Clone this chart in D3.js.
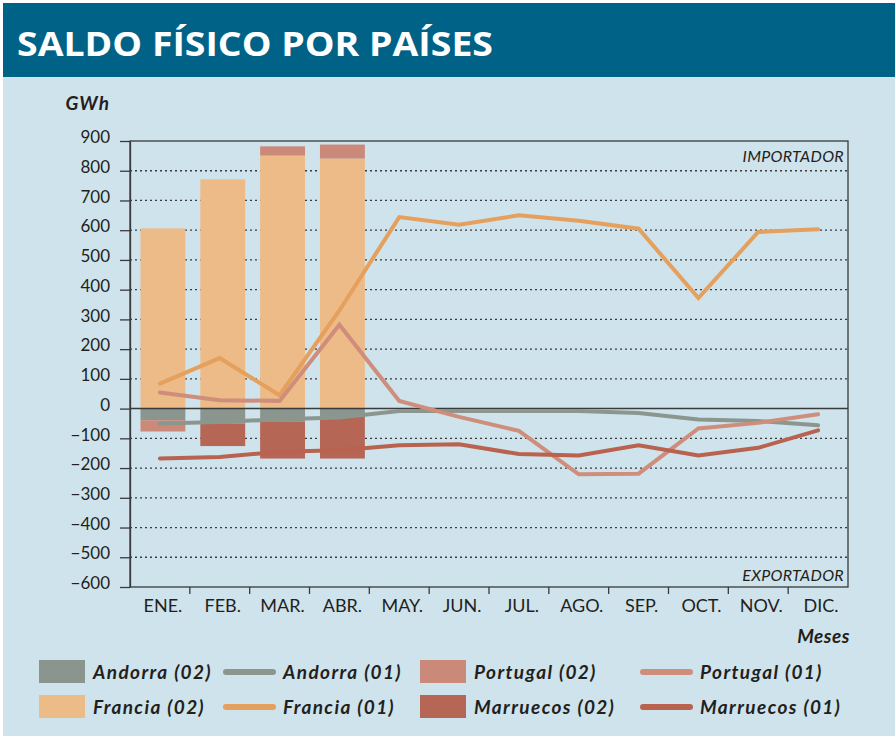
<!DOCTYPE html>
<html>
<head>
<meta charset="utf-8">
<script src="https://cdn.jsdelivr.net/npm/d3@7"></script>
<style>
  body { margin: 0; background: #fff; }
  svg text { font-family: Lato, "Open Sans", sans-serif; fill: #231f20; }
</style>
</head>
<body>
<div class="container"></div>
<script>
const months = ["ENE.", "FEB.", "MAR.", "ABR.", "MAY.", "JUN.", "JUL.", "AGO.", "SEP.", "OCT.", "NOV.", "DIC."]
const yTicks = [900, 800, 700, 600, 500, 400, 300, 200, 100, 0, -100, -200, -300, -400, -500, -600]

// (02) bars, first four months
const andorra02 = [-39, -50, -43, -28]
const francia02 = [606, 771, 851, 841]
const portugal02 = [-38, 0, 31, 47]
const marruecos02 = [0, -76, -125, -140]

// (01) lines, twelve months
const andorra01 = [-50, -45, -36, -30, -8, -8, -8, -8, -15, -37, -42, -56]
const francia01 = [84, 170, 45, 330, 644, 618, 650, 632, 605, 372, 594, 603]
const portugal01 = [54, 28, 26, 282, 26, -28, -75, -221, -219, -67, -48, -19]
const marruecos01 = [-168, -163, -145, -140, -123, -120, -153, -158, -123, -158, -132, -73]

const colors = {
    andorraBar: "#8a958e", andorraLine: "#8b968f",
    franciaBar: "#ecbb87", franciaLine: "#e4a05c",
    portugalBar: "#cb8a79", portugalLine: "#cf8d7c",
    marruecosBar: "#b56655", marruecosLine: "#b8624f"
}

const width = 896
const height = 736
const margin = { top: 141, bottom: 149, left: 130, right: 48 }

let svg = d3.select(".container")
    .append("svg")
    .attr("width", width)
    .attr("height", height)
    .attr("viewBox", [0, 0, width, height])

// background + header
svg.append("rect").attr("x", 3).attr("y", 3).attr("width", width - 4).attr("height", height - 3).attr("fill", "#cfe3ec")
svg.append("rect").attr("x", 3).attr("y", 3).attr("width", width - 4).attr("height", 74).attr("fill", "#006286")
svg.append("text")
    .attr("x", 17).attr("y", 56)
    .style("fill", "#fff")
    .style("font-family", "'Open Sans', sans-serif")
    .style("font-weight", 700)
    .style("font-size", "34px")
    .attr("textLength", 476)
    .attr("lengthAdjust", "spacingAndGlyphs")
    .text("SALDO FÍSICO POR PAÍSES")

let x = d3.scaleBand()
    .domain(months)
    .range([margin.left, width - margin.right])
    .paddingInner(0.25)
    .paddingOuter(0.125)

let xPoint = m => x(m) + x.bandwidth() / 2

let y = d3.scaleLinear()
    .domain([-600, 900])
    .range([height - margin.bottom, margin.top])

// dotted grid
svg.append("g")
    .selectAll("line")
    .data(yTicks.filter(d => d != 0 && d != 900 && d != -600))
    .join("line")
    .attr("x1", margin.left).attr("x2", width - margin.right)
    .attr("y1", d => y(d)).attr("y2", d => y(d))
    .attr("stroke", "#3a3a3a")
    .attr("stroke-width", 1.3)
    .attr("stroke-dasharray", "2,3")

// frame
svg.append("rect")
    .attr("x", margin.left).attr("y", y(900))
    .attr("width", width - margin.right - margin.left)
    .attr("height", y(-600) - y(900))
    .attr("fill", "none")
    .attr("stroke", "#3a3a3a")
    .attr("stroke-width", 1.3)

// stacked bars
let barRows = months.slice(0, 4).map((m, i) => ({
    month: m,
    andorra: andorra02[i], francia: francia02[i], portugal: portugal02[i], marruecos: marruecos02[i]
}))
let keys = ["andorra", "francia", "portugal", "marruecos"]
let stacked = d3.stack().keys(keys).offset(d3.stackOffsetDiverging)(barRows)

svg.append("g")
    .selectAll("g")
    .data(stacked)
    .join("g")
    .attr("fill", s => colors[s.key + "Bar"])
    .selectAll("rect")
    .data(s => s)
    .join("rect")
    .attr("x", d => x(d.data.month) + 3)
    .attr("width", x.bandwidth())
    .attr("y", d => y(Math.max(d[0], d[1])))
    .attr("height", d => Math.abs(y(d[0]) - y(d[1])))

// zero line
svg.append("line")
    .attr("x1", margin.left).attr("x2", width - margin.right)
    .attr("y1", y(0)).attr("y2", y(0))
    .attr("stroke", "#3a3a3a")
    .attr("stroke-width", 1.5)

// lines
let line = d3.line()
    .x((d, i) => xPoint(months[i]))
    .y(d => y(d))

let series = [
    { values: andorra01, color: colors.andorraLine },
    { values: francia01, color: colors.franciaLine },
    { values: portugal01, color: colors.portugalLine },
    { values: marruecos01, color: colors.marruecosLine }
]

svg.append("g")
    .selectAll("path")
    .data(series)
    .join("path")
    .attr("d", s => line(s.values))
    .attr("fill", "none")
    .attr("stroke", s => s.color)
    .attr("stroke-width", 4)
    .attr("stroke-linecap", "round")
    .attr("stroke-linejoin", "miter")

// y axis
let yAxis = svg.append("g")
    .attr("transform", `translate(${margin.left}, 0)`)
    .call(d3.axisLeft(y).tickValues(yTicks).tickSize(10).tickSizeOuter(0).tickPadding(10))
yAxis.select(".domain").attr("stroke", "#3a3a3a").attr("stroke-width", 1.3)
yAxis.selectAll(".tick line").attr("stroke", "#3a3a3a").attr("stroke-width", 1.3)
yAxis.selectAll(".tick text").style("font-size", "17px").attr("dy", "0.1em")

// x axis
let xAxis = svg.append("g")
    .attr("transform", `translate(0, ${y(-600)})`)
    .call(d3.axisBottom(x).tickSize(0).tickPadding(12))
xAxis.select(".domain").remove()
xAxis.selectAll(".tick text").style("font-size", "18px").attr("dx", "3px")

svg.append("g")
    .selectAll("line")
    .data(months.slice(1))
    .join("line")
    .attr("x1", m => x(m) - x.step() * x.paddingInner() / 2)
    .attr("x2", m => x(m) - x.step() * x.paddingInner() / 2)
    .attr("y1", y(-600)).attr("y2", y(-600) + 7)
    .attr("stroke", "#3a3a3a")
    .attr("stroke-width", 1.3)

// axis titles
svg.append("text")
    .attr("x", 110).attr("y", 110)
    .attr("text-anchor", "end")
    .style("font-size", "19px").style("font-weight", 700).style("font-style", "italic")
    .attr("letter-spacing", "1px")
    .text("GWh")

svg.append("text")
    .attr("x", width - margin.right + 2).attr("y", 643)
    .attr("text-anchor", "end")
    .style("font-size", "19px").style("font-weight", 700).style("font-style", "italic")
    .attr("letter-spacing", "0.5px")
    .text("Meses")

svg.append("text")
    .attr("x", width - margin.right - 4).attr("y", 162)
    .attr("text-anchor", "end")
    .style("font-size", "16px").style("font-style", "italic")
    .attr("letter-spacing", "0.3px")
    .text("IMPORTADOR")

svg.append("text")
    .attr("x", width - margin.right - 4).attr("y", 581)
    .attr("text-anchor", "end")
    .style("font-size", "16px").style("font-style", "italic")
    .attr("letter-spacing", "0.3px")
    .text("EXPORTADOR")

// legend
let legendItems = [
    { label: "Andorra (02)", color: colors.andorraBar, type: "bar", col: 0, row: 0 },
    { label: "Andorra (01)", color: colors.andorraLine, type: "line", col: 1, row: 0 },
    { label: "Portugal (02)", color: colors.portugalBar, type: "bar", col: 2, row: 0 },
    { label: "Portugal (01)", color: colors.portugalLine, type: "line", col: 3, row: 0 },
    { label: "Francia (02)", color: colors.franciaBar, type: "bar", col: 0, row: 1 },
    { label: "Francia (01)", color: colors.franciaLine, type: "line", col: 1, row: 1 },
    { label: "Marruecos (02)", color: colors.marruecosBar, type: "bar", col: 2, row: 1 },
    { label: "Marruecos (01)", color: colors.marruecosLine, type: "line", col: 3, row: 1 }
]
let colX = [39, 223, 420, 640]
let rowY = [672, 707]

let legend = svg.append("g").attr("id", "legend")
let item = legend.selectAll("g")
    .data(legendItems)
    .join("g")
    .attr("transform", d => `translate(${colX[d.col]}, ${rowY[d.row]})`)

item.filter(d => d.type == "bar")
    .append("rect")
    .attr("x", 0).attr("y", -12)
    .attr("width", 46).attr("height", 23)
    .attr("fill", d => d.color)

item.filter(d => d.type == "line")
    .append("line")
    .attr("x1", 3).attr("x2", 50)
    .attr("y1", 0).attr("y2", 0)
    .attr("stroke", d => d.color)
    .attr("stroke-width", 6)
    .attr("stroke-linecap", "round")

item.append("text")
    .attr("x", d => d.type == "bar" ? 54 : 60)
    .attr("y", 7)
    .style("font-size", "19px").style("font-weight", 700).style("font-style", "italic")
    .attr("letter-spacing", "1.4px")
    .text(d => d.label)
</script>
</body>
</html>
